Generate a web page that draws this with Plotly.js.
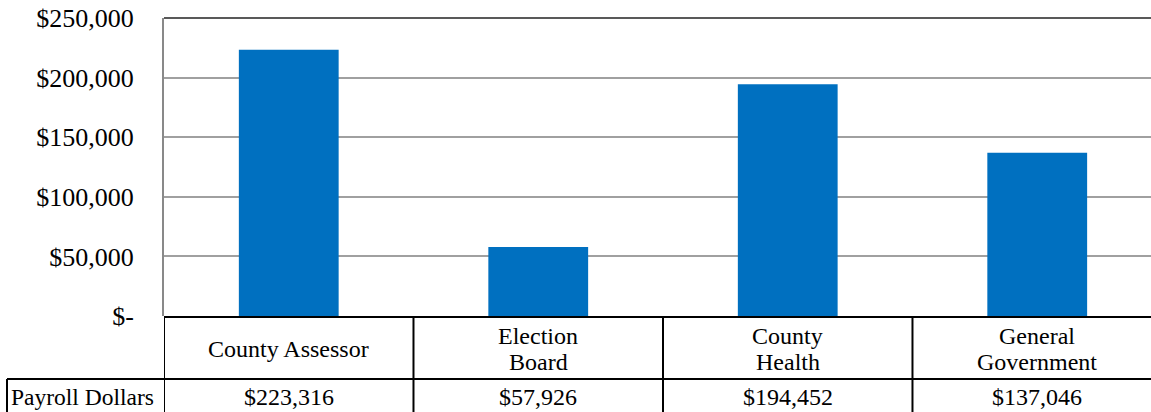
<!DOCTYPE html>
<html>
<head>
<meta charset="utf-8">
<script src="https://cdn.plot.ly/plotly-3.0.1.min.js"></script>
<style>html,body{margin:0;padding:0;background:#fff;}#chart{width:1151px;height:412px;}</style>
</head>
<body>
<div id="chart"></div>
<script>
const categories = ["County Assessor", "Election<br>Board", "County<br>Health", "General<br>Government"];
const payrollDollars = [223316, 57926, 194452, 137046];
const payrollLabels = ["$223,316", "$57,926", "$194,452", "$137,046"];
const seriesName = "Payroll Dollars";
const yTickVals = [0, 50000, 100000, 150000, 200000, 250000];
const yTickText = ["$-", "$50,000", "$100,000", "$150,000", "$200,000", "$250,000"];

const W = 1151, H = 412, L = 164, T = 18, B = 96;
const plotH = H - T - B;
const py = p => (H - B - p) / plotH;   // pixel y -> paper y
const px = p => (p - L) / (W - L);      // pixel x -> paper x

const font = "Liberation Serif";

const shapes = [];
const black = {color: "#000", width: 2};
shapes.push({type: "line", xref: "paper", yref: "paper", x0: 0, x1: 1, y0: py(317), y1: py(317), line: black});
shapes.push({type: "line", xref: "paper", yref: "paper", x0: px(7), x1: 1, y0: py(379), y1: py(379), line: black});
shapes.push({type: "line", xref: "paper", yref: "paper", x0: px(7), x1: px(7), y0: py(379), y1: py(420), line: black});
for (let i = 0; i < categories.length; i++) {
  shapes.push({type: "line", xref: "x", yref: "paper", x0: i - 0.5, x1: i - 0.5, y0: py(317), y1: py(420), line: black});
}
shapes.push({type: "line", xref: "paper", yref: "paper", x0: 0, x1: 1, y0: 1, y1: 1, line: {color: "#595959", width: 2}});

const annotations = [];
const tfont = {family: font, size: 24, color: "#000"};
categories.forEach((c, i) => {
  const lines = c.split("<br>");
  lines.forEach((ln, k) => {
    const cy = 348.5 + (k - (lines.length - 1) / 2) * 26;
    annotations.push({xref: "x", yref: "paper", x: i, y: py(cy), text: ln, showarrow: false,
      xanchor: "center", yanchor: "middle", font: tfont});
  });
  annotations.push({xref: "x", yref: "paper", x: i, y: py(397), text: payrollLabels[i], showarrow: false,
    xanchor: "center", yanchor: "middle", font: tfont});
});
annotations.push({xref: "paper", yref: "paper", x: px(9), y: py(397), text: seriesName, showarrow: false,
  xanchor: "left", yanchor: "middle", font: {family: font, size: 23.5, color: "#000"}});

const trace = {
  type: "bar",
  x: categories,
  y: payrollDollars,
  width: 0.4,
  marker: {color: "#0070C0"},
  hoverinfo: "none"
};

const layout = {
  width: W, height: H,
  font: {family: font, color: "#000"},
  margin: {l: L, r: 0, t: T, b: B, pad: 0},
  paper_bgcolor: "#fff", plot_bgcolor: "#fff",
  showlegend: false,
  xaxis: {type: "category", range: [-0.5, 3.456], showticklabels: false, showgrid: false, zeroline: false, ticks: "", fixedrange: true},
  yaxis: {range: [0, 250000], tickvals: yTickVals, ticktext: yTickText, showgrid: true, gridcolor: "#A0A0A0", gridwidth: 2,
    zeroline: false, showline: true, linecolor: "#898989", linewidth: 2, ticks: "", ticklabelstandoff: 23,
    tickfont: {family: font, size: 26, color: "#000"}, fixedrange: true},
  shapes: shapes,
  annotations: annotations
};

Plotly.newPlot("chart", [trace], layout, {displayModeBar: false, staticPlot: true});
</script>
</body>
</html>
